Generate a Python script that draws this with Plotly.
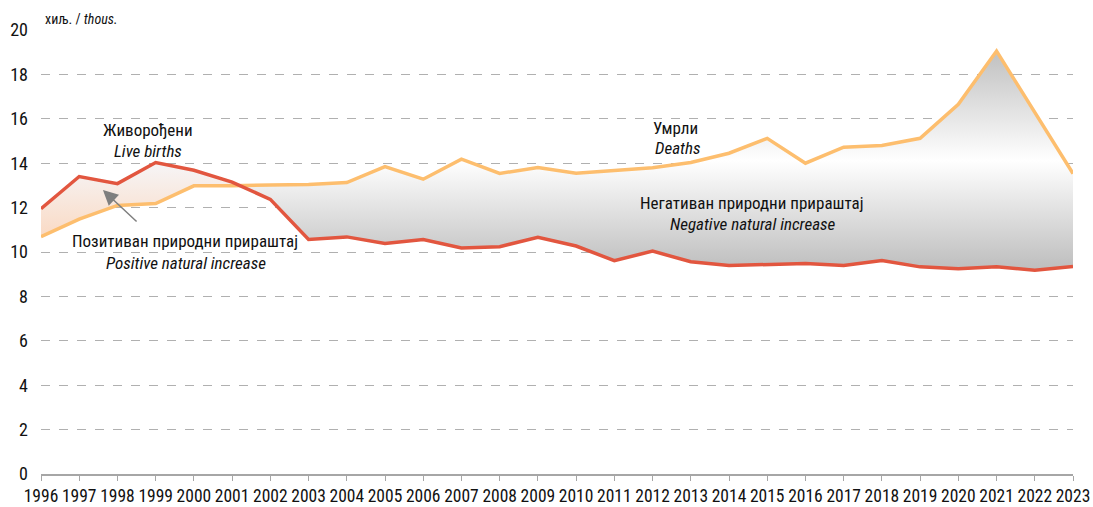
import plotly.graph_objects as go

years = list(range(1996, 2024))
births = [11.95, 13.40, 13.08, 14.03, 13.68, 13.15, 12.37, 10.56, 10.68, 10.38,
          10.56, 10.18, 10.24, 10.66, 10.27, 9.61, 10.04, 9.56, 9.39, 9.42,
          9.48, 9.39, 9.62, 9.33, 9.24, 9.33, 9.18, 9.35]
deaths = [10.69, 11.48, 12.10, 12.18, 12.98, 12.98, 13.02, 13.04, 13.13, 13.85,
          13.28, 14.18, 13.54, 13.80, 13.55, 13.66, 13.80, 14.03, 14.45, 15.12,
          14.00, 14.72, 14.80, 15.12, 16.65, 19.05, 16.30, 13.53]
y_ticks = [0, 2, 4, 6, 8, 10, 12, 14, 16, 18, 20]

FONT = "Liberation Sans Narrow, Arial Narrow, Roboto Condensed, Liberation Sans, Arial, sans-serif"
RED = "#E2563F"
ORANGE = "#FDBE6E"

# find crossing where births fall below deaths
diff = [b - d for b, d in zip(births, deaths)]
k = next(i for i in range(len(diff) - 1) if diff[i] >= 0 and diff[i + 1] < 0)
t = diff[k] / (diff[k] - diff[k + 1])
cx = years[k] + t * (years[k + 1] - years[k])
cy = births[k] + t * (births[k + 1] - births[k])

# positive region polygon
px = years[:k + 1] + [cx] + years[:k + 1][::-1]
py = births[:k + 1] + [cy] + deaths[:k + 1][::-1]
# negative region polygon
nx = [cx] + years[k + 1:] + years[k + 1:][::-1] + [cx]
ny = [cy] + deaths[k + 1:] + births[k + 1:][::-1] + [cy]

fig = go.Figure()
fig.add_trace(go.Scatter(
    x=px, y=py, mode="none", fill="toself", hoverinfo="skip", showlegend=False,
    fillgradient=dict(type="vertical",
                      colorscale=[[0, "#FADAC4"], [1, "#F6F5F7"]]),
))
fig.add_trace(go.Scatter(
    x=nx, y=ny, mode="none", fill="toself", hoverinfo="skip", showlegend=False,
    fillgradient=dict(type="vertical",
                      colorscale=[[0, "#BDBDBD"], [0.5, "#FFFFFF"], [1, "#C0C0C0"]]),
))
fig.add_trace(go.Scatter(x=years, y=deaths, mode="lines", showlegend=False,
                         line=dict(color=ORANGE, width=3.5)))
fig.add_trace(go.Scatter(x=years, y=births, mode="lines", showlegend=False,
                         line=dict(color=RED, width=3.5)))

txt = dict(family=FONT, size=17, color="#111111")
labels = [
    (1998.8, 15.5, "Живорођени"),
    (1998.8, 14.55, "<i>Live births</i>"),
    (1999.77, 10.5, "Позитиван природни прираштај"),
    (1999.8, 9.5, "<i>Positive natural increase</i>"),
    (2012.6, 15.59, "Умрли"),
    (2012.65, 14.68, "<i>Deaths</i>"),
    (2014.6, 12.2, "Негативан природни прираштај"),
    (2014.62, 11.26, "<i>Negative natural increase</i>"),
]
for x, y, s in labels:
    fig.add_annotation(x=x, y=y, text=s, showarrow=False, font=txt,
                       xanchor="center", yanchor="middle")

fig.add_annotation(x=1997.62, y=12.79, ax=1998.54, ay=11.31, axref="x", ayref="y",
                   text="", showarrow=True, arrowhead=2, arrowsize=2,
                   arrowwidth=1.5, arrowcolor="#7F7F7F")

fig.add_annotation(x=0.002, y=1, xref="paper", yref="paper", yshift=1,
                   text="хиљ. / <i>thous.</i>", showarrow=False,
                   xanchor="left", yanchor="bottom",
                   font=dict(family=FONT, size=14, color="#111111"))

fig.update_layout(
    width=1093, height=507,
    margin=dict(l=41, r=20, t=30, b=33, autoexpand=False),
    paper_bgcolor="white", plot_bgcolor="white",
    font=dict(family=FONT, size=17, color="#111111"),
    xaxis=dict(range=[1996, 2023], tickmode="array", tickvals=years,
               ticktext=[str(y) for y in years], showgrid=False,
               showline=True, linecolor="#A6A6A6", linewidth=1.5,
               ticks="outside", ticklen=5, tickcolor="#A6A6A6",
               tickfont=dict(size=17.5), zeroline=False, automargin=False,
               ticklabeloverflow="allow"),
    yaxis=dict(range=[0, 20], tickmode="array", tickvals=y_ticks,
               showgrid=True, gridcolor="#B0B0B0", griddash="dash", gridwidth=1,
               zeroline=False, showline=False, ticks="", automargin=False,
               ticklabelstandoff=12, tickfont=dict(size=18)),
)

fig.write_html("out.html",
               config={"displayModeBar": False},
               post_script="document.body.style.margin='0px';"
                           "document.body.style.overflow='hidden';")
